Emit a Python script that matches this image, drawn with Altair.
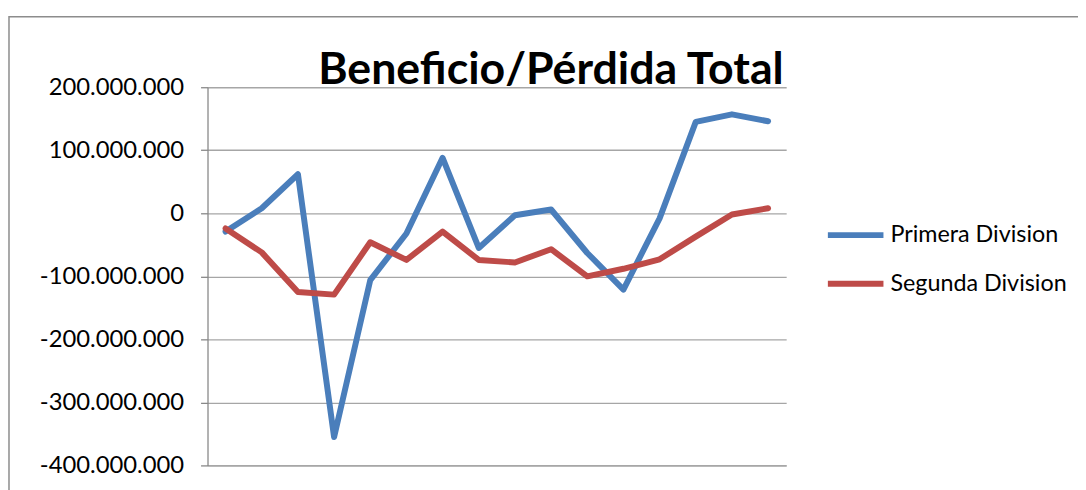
import altair as alt
import pandas as pd

title_text = ["Beneficio/Pérdida Total"]
categories = [str(i) for i in range(1, 17)]
primera = [-29, 8, 62, -355, -106, -32, 88, -55, -3, 6, -63, -121, -8, 145, 157, 146]
segunda = [-24, -62, -125, -129, -46, -74, -29, -74, -78, -57, -100, -88, -73, -37, -2, 8]
series_names = ["Primera Division", "Segunda Division"]
colors = ["#4a7ebb", "#be4b48"]
y_ticks = [200e6, 100e6, 0, -100e6, -200e6, -300e6, -400e6]

rows = []
for name, vals in zip(series_names, [primera, segunda]):
    for c, v in zip(categories, vals):
        rows.append({"cat": c, "serie": name, "valor": v * 1e6})
df = pd.DataFrame(rows)

FONT = "Lato"

lines = alt.Chart(df).mark_line(strokeWidth=6, strokeCap="round", strokeJoin="round").encode(
    x=alt.X("cat:O", sort=categories,
            axis=alt.Axis(labels=False, ticks=False, title=None, domain=True,
                          domainColor="#a0a0a0", domainWidth=1.3, grid=False)),
    y=alt.Y("valor:Q", scale=alt.Scale(domain=[-400e6, 200e6], nice=False, zero=False),
            axis=alt.Axis(values=y_ticks, title=None, grid=True, gridColor="#a6a6a6",
                          gridWidth=1.3, domainColor="#888888", domainWidth=1.3,
                          tickColor="#888888", tickSize=7, tickWidth=1.3,
                          labelFont=FONT, labelFontSize=24, labelColor="#000000",
                          labelPadding=17,
                          labelExpr="replace(replace(format(datum.value, ','), /,/g, '.'), '\u2212', '-')")),
    color=alt.Color("serie:N", scale=alt.Scale(domain=series_names, range=colors),
                    legend=alt.Legend(title=None, orient="none", legendX=622, legendY=118,
                                      symbolType="stroke", symbolSize=3136, symbolStrokeWidth=6,
                                      labelFont=FONT, labelFontSize=23.5, labelColor="#000000",
                                      labelLimit=400, labelOffset=4, rowPadding=6, padding=0)),
)

frame = alt.Chart(alt.Data(values=[{"a": 1}])).mark_rect(
    fill="transparent", stroke="#8c8c8c", strokeWidth=1.5
).encode(
    x=alt.value(-200), x2=alt.value(1200), y=alt.value(-71), y2=alt.value(1200)
)

title = alt.Chart(pd.DataFrame({"t": title_text})).mark_text(
    font=FONT, fontSize=45, fontWeight="bold", color="#000000",
    align="center", baseline="alphabetic"
).encode(
    text="t:N", x=alt.value(346), y=alt.value(-3)
)

chart = alt.layer(frame, lines, title).properties(
    width=583, height=381,
    autosize=alt.AutoSizeParams(type="none"),
    padding={"left": 201, "top": 78, "right": 294, "bottom": 31},
).configure_view(stroke=None)

chart.save("out.html", embed_options={"renderer": "svg", "actions": False})
